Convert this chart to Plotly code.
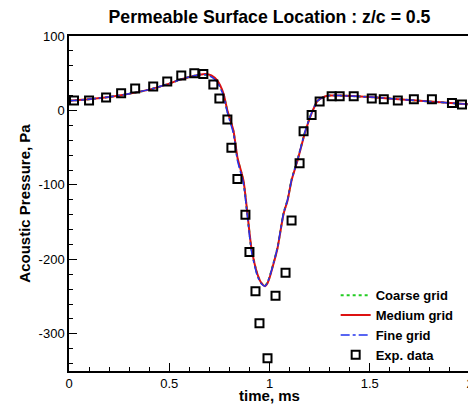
import plotly.graph_objects as go

# Simulation curves (time in ms, pressure in Pa)
t_med = [0.0, 0.1, 0.25, 0.4, 0.5, 0.55, 0.6, 0.65, 0.68, 0.71, 0.74, 0.77, 0.79, 0.82, 0.84, 0.87, 0.89, 0.91,
         0.94, 0.96, 0.978, 0.99, 1.0, 1.02, 1.04, 1.07, 1.09, 1.11, 1.14, 1.18, 1.21, 1.24, 1.27, 1.3, 1.35, 1.5, 1.75, 2.0]
p_med = [13, 15, 20, 28, 36, 41, 45, 48, 49, 47, 40, 23, 0, -27, -63, -94, -139, -185,
         -220, -232, -236, -232, -225, -206, -185, -139, -121, -94, -67, -27, -4, 13, 18, 20, 20, 18, 13, 8]

t_coarse = [0.0, 0.1, 0.25, 0.4, 0.5, 0.55, 0.6, 0.65, 0.68, 0.71, 0.74, 0.77, 0.79, 0.82, 0.84, 0.87, 0.89, 0.91,
            0.94, 0.96, 0.978, 0.99, 1.0, 1.02, 1.04, 1.07, 1.09, 1.11, 1.14, 1.18, 1.21, 1.24, 1.27, 1.3, 1.35, 1.5, 1.75, 2.0]
p_coarse = [13, 15, 20, 28, 36, 41, 45, 48, 48, 46, 39, 22, -1, -28, -64, -95, -140, -186,
            -221, -232, -235, -231, -224, -205, -184, -138, -120, -93, -66, -26, -3, 13, 18, 20, 20, 18, 13, 8]

t_fine = [0.0, 0.1, 0.25, 0.4, 0.5, 0.55, 0.6, 0.65, 0.68, 0.71, 0.74, 0.77, 0.79, 0.82, 0.84, 0.87, 0.89, 0.91,
          0.94, 0.96, 0.978, 0.99, 1.0, 1.02, 1.04, 1.07, 1.09, 1.11, 1.14, 1.18, 1.21, 1.24, 1.27, 1.3, 1.35, 1.5, 1.75, 2.0]
p_fine = [13, 15, 20, 28, 36, 41, 45, 48, 48, 45, 38, 20, -3, -31, -67, -98, -143, -189,
          -223, -233, -236, -231, -224, -205, -184, -138, -120, -93, -66, -26, -3, 13, 18, 20, 20, 18, 13, 8]

# Experimental data
t_exp = [0.025, 0.1, 0.185, 0.26, 0.33, 0.42, 0.49, 0.56, 0.625, 0.67, 0.72, 0.75, 0.79, 0.81, 0.84,
         0.88, 0.90, 0.93, 0.95, 0.99, 1.03, 1.08, 1.11, 1.15, 1.17, 1.21, 1.25, 1.31, 1.35, 1.42,
         1.51, 1.57, 1.64, 1.72, 1.81, 1.91, 1.96]
p_exp = [13.5, 13.5, 17.5, 23, 29.6, 32, 39, 47, 50, 49, 35, 16, -12, -50, -92,
         -140, -190, -243, -286, -333, -249, -218, -148, -71, -28, -6, 12, 19, 19, 19,
         16, 15, 13.5, 15, 15, 10, 8]

# Tick labels
x_tickvals = [0, 0.5, 1, 1.5, 2]
x_ticktext = ["0", "0.5", "1", "1.5", "2"]
y_tickvals = [-300, -200, -100, 0, 100]
y_ticktext = ["-300", "-200", "-100", "0", "100"]

fig = go.Figure()
fig.add_trace(go.Scatter(x=t_coarse, y=p_coarse, mode="lines", name="<b>Coarse grid</b>",
                         line=dict(color="#22cc22", width=2, dash="dot", shape="spline", smoothing=0.6)))
fig.add_trace(go.Scatter(x=t_med, y=p_med, mode="lines", name="<b>Medium grid</b>",
                         line=dict(color="#dd1111", width=2, shape="spline", smoothing=0.6)))
fig.add_trace(go.Scatter(x=t_fine, y=p_fine, mode="lines", name="<b>Fine grid</b>",
                         line=dict(color="#2233ee", width=1.5, dash="dashdot", shape="spline", smoothing=0.6)))
fig.add_trace(go.Scatter(x=t_exp, y=p_exp, mode="markers", name="<b>Exp. data</b>",
                         marker=dict(symbol="square-open", size=8, color="black",
                                     line=dict(color="black", width=2))))

# The page body has an 8px margin, so the figure is sized to fit after that offset.
font_family = "Liberation Sans, Arial, sans-serif"
fig.update_layout(
    width=468, height=396,
    margin=dict(l=61, r=6, t=28, b=33, autoexpand=False),
    paper_bgcolor="white", plot_bgcolor="white",
    font=dict(family=font_family, size=13, color="black"),
    title=dict(text="<b>Permeable Surface Location : z/c = 0.5</b>", x=0.5, xref="paper",
               xanchor="center", y=1 - 9 / 396, yref="container", yanchor="middle",
               font=dict(size=17.7), automargin=False),
    showlegend=True,
    legend=dict(x=0.665, y=0.271, xanchor="left", yanchor="top", bgcolor="rgba(0,0,0,0)",
                font=dict(size=13), tracegroupgap=0),
)
fig.update_xaxes(
    range=[0, 2], tickvals=x_tickvals, ticktext=x_ticktext, showgrid=False, zeroline=False,
    automargin=False, showline=True, linecolor="black", linewidth=1.5, mirror=True,
    ticks="inside", ticklen=8, tickcolor="black",
    minor=dict(ticks="inside", dtick=0.1, tick0=0, ticklen=4, tickcolor="black", showgrid=False),
    title=dict(text="<b>time, ms</b>", standoff=7, font=dict(size=15)),
    tickfont=dict(size=13),
)
fig.update_yaxes(
    range=[-350, 100], tickvals=y_tickvals, ticktext=y_ticktext, showgrid=False, zeroline=False,
    automargin=False, showline=True, linecolor="black", linewidth=1.5, mirror=True,
    ticks="inside", ticklen=8, tickcolor="black",
    minor=dict(ticks="inside", dtick=20, tick0=0, ticklen=4, tickcolor="black", showgrid=False),
    title=dict(text="<b>Acoustic Pressure, Pa</b>", standoff=4, font=dict(size=15)),
    tickfont=dict(size=13),
)
fig.write_html("out.html")
